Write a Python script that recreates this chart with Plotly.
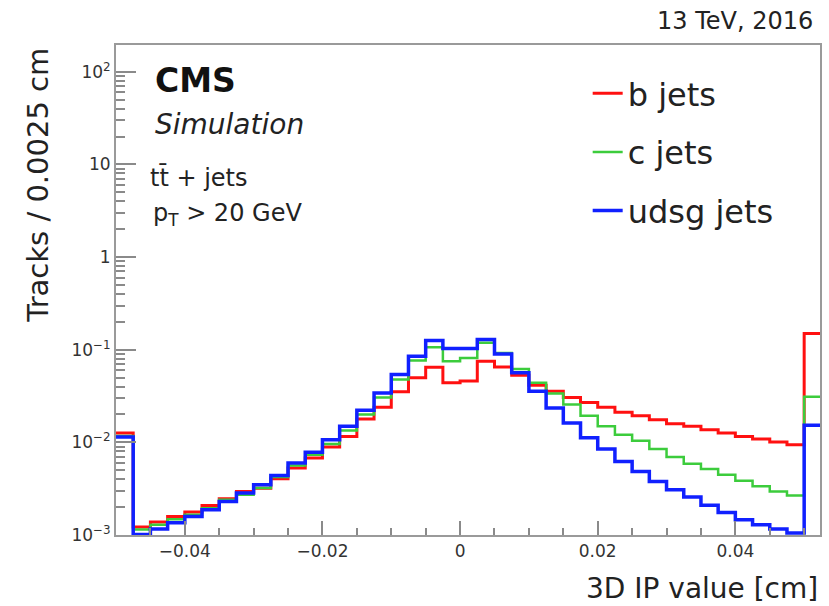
import plotly.graph_objects as go

# ---- data -------------------------------------------------------------
BIN_LOW = -0.05
BIN_WIDTH = 0.0025
N_BINS = 41  # 40 bins in [-0.05, 0.05] + overflow bin

b_jets = [0.0126, 0.00122, 0.00138, 0.00158, 0.00177, 0.00208, 0.00246, 0.00295,
          0.0032, 0.00405, 0.00529, 0.00678, 0.0089, 0.0116, 0.0179, 0.0239,
          0.0351, 0.0497, 0.0647, 0.0439, 0.0460, 0.0751, 0.0653, 0.053,
          0.0413, 0.0356, 0.0306, 0.027, 0.0239, 0.0211, 0.0194, 0.0176,
          0.0159, 0.0149, 0.0137, 0.0126, 0.0116, 0.0109, 0.0101, 0.0094, 0.150]

c_jets = [0.0117, 0.00115, 0.00129, 0.00148, 0.00165, 0.00195, 0.0024, 0.00272,
          0.00321, 0.00423, 0.00564, 0.00736, 0.0096, 0.0134, 0.020, 0.0306,
          0.0476, 0.0764, 0.1064, 0.075, 0.0817, 0.1187, 0.092, 0.0621,
          0.0439, 0.0336, 0.0256, 0.0194, 0.0149, 0.0121, 0.0104, 0.0085,
          0.00695, 0.00589, 0.00515, 0.00448, 0.00386, 0.00335, 0.00295, 0.00267, 0.031]

udsg_jets = [0.0114, 0.00101, 0.00116, 0.00136, 0.00158, 0.00187, 0.0023, 0.00284,
             0.00349, 0.0044, 0.00598, 0.0078, 0.0107, 0.0149, 0.0222, 0.0342,
             0.0539, 0.0851, 0.1258, 0.103, 0.103, 0.129, 0.0902, 0.0563,
             0.0356, 0.0235, 0.0162, 0.0112, 0.0085, 0.00623, 0.00486, 0.00378,
             0.00308, 0.00257, 0.0021, 0.00175, 0.00146, 0.00129, 0.00116, 0.00105, 0.0153]

series_names = ["b jets", "c jets", "udsg jets"]
series_values = [b_jets, c_jets, udsg_jets]

x_tickvals = [-0.04, -0.02, 0, 0.02, 0.04]
x_ticktext = ["\u22120.04", "\u22120.02", "0", "0.02", "0.04"]
y_tickvals = [1e-3, 1e-2, 1e-1, 1, 10, 100]
y_ticktext = ["10<sup>\u22123</sup>", "10<sup>\u22122</sup>", "10<sup>\u22121</sup>",
              "1", "10", "10<sup>2</sup>"]

# ---- styles -----------------------------------------------------------
colors = ["#ff1010", "#3ccc3c", "#1020ff"]
widths = [3, 2.5, 3.5]
FONT = "DejaVu Sans"
TXT = "#222222"

edges = [BIN_LOW + BIN_WIDTH * i for i in range(N_BINS + 1)]

fig = go.Figure()
for name, vals, col, w in zip(series_names, series_values, colors, widths):
    fig.add_trace(go.Scatter(
        x=edges, y=list(vals) + [vals[-1]],
        mode="lines", line=dict(shape="hv", color=col, width=w),
        name=name, legendgroup=name, cliponaxis=True,
    ))

minor_y = [m * 10 ** e for e in range(-3, 3) for m in range(2, 10)]

fig.update_layout(
    width=829, height=606,
    margin=dict(l=116, r=7, t=45, b=71),
    paper_bgcolor="white", plot_bgcolor="white",
    font=dict(family=FONT, color=TXT),
    showlegend=True,
    legend=dict(
        x=0.670, y=0.957, xanchor="left", yanchor="top",
        font=dict(size=32, family=FONT, color=TXT),
        bgcolor="rgba(0,0,0,0)", traceorder="grouped", tracegroupgap=14,
        itemwidth=30,
    ),
    xaxis=dict(
        range=[-0.05, 0.0523], showgrid=False, zeroline=False,
        showline=True, linecolor="#9a9a9a", linewidth=2, mirror=True,
        tickmode="array", tickvals=x_tickvals, ticktext=x_ticktext,
        ticks="inside", ticklen=14, tickwidth=1.5, tickcolor="#8a8a8a",
        tickfont=dict(size=17, color="#333333", family=FONT),
        minor=dict(ticks="inside", ticklen=7, tickwidth=1.5, tickcolor="#8a8a8a",
                   dtick=0.005, tick0=0, showgrid=False),
    ),
    yaxis=dict(
        type="log", range=[-3, 2.29], showgrid=False, zeroline=False,
        showline=True, linecolor="#9a9a9a", linewidth=2, mirror=True,
        tickmode="array", tickvals=y_tickvals, ticktext=y_ticktext,
        ticks="inside", ticklen=20, tickwidth=1.5, tickcolor="#8a8a8a",
        tickfont=dict(size=17, color="#333333", family=FONT),
        minor=dict(ticks="inside", ticklen=9, tickwidth=1.5, tickcolor="#8a8a8a",
                   tickmode="array", tickvals=minor_y, showgrid=False),
    ),
)

annotations = [
    dict(text="<b>CMS</b>", x=0.052, y=0.928, xanchor="left", yanchor="middle",
         font=dict(size=33, family=FONT, color="#111111")),
    dict(text="<i>Simulation</i>", x=0.052, y=0.838, xanchor="left", yanchor="middle",
         font=dict(size=28, family=FONT, color=TXT)),
    dict(text="tt\u0304 + jets", x=0.045, y=0.73, xanchor="left", yanchor="middle",
         font=dict(size=24, family=FONT, color=TXT)),
    dict(text="p<sub>T</sub> &gt; 20 GeV", x=0.050, y=0.655, xanchor="left", yanchor="middle",
         font=dict(size=24, family=FONT, color=TXT)),
    dict(text="13 TeV, 2016", x=0.993, y=1.049, xanchor="right", yanchor="middle",
         font=dict(size=24, family=FONT, color=TXT)),
    dict(text="3D IP value [cm]", x=1.0, y=-0.11, xanchor="right", yanchor="middle",
         font=dict(size=28, family=FONT, color=TXT)),
    dict(text="Tracks / 0.0025 cm", x=-0.112, y=0.713, xanchor="center", yanchor="middle",
         textangle=-90, font=dict(size=29, family=FONT, color=TXT)),
]
for a in annotations:
    a.update(xref="paper", yref="paper", showarrow=False)
fig.update_layout(annotations=annotations)

fig.write_html("out.html",
               config={"displayModeBar": False},
               post_script="document.body.style.margin='0';document.body.style.overflow='hidden';")
